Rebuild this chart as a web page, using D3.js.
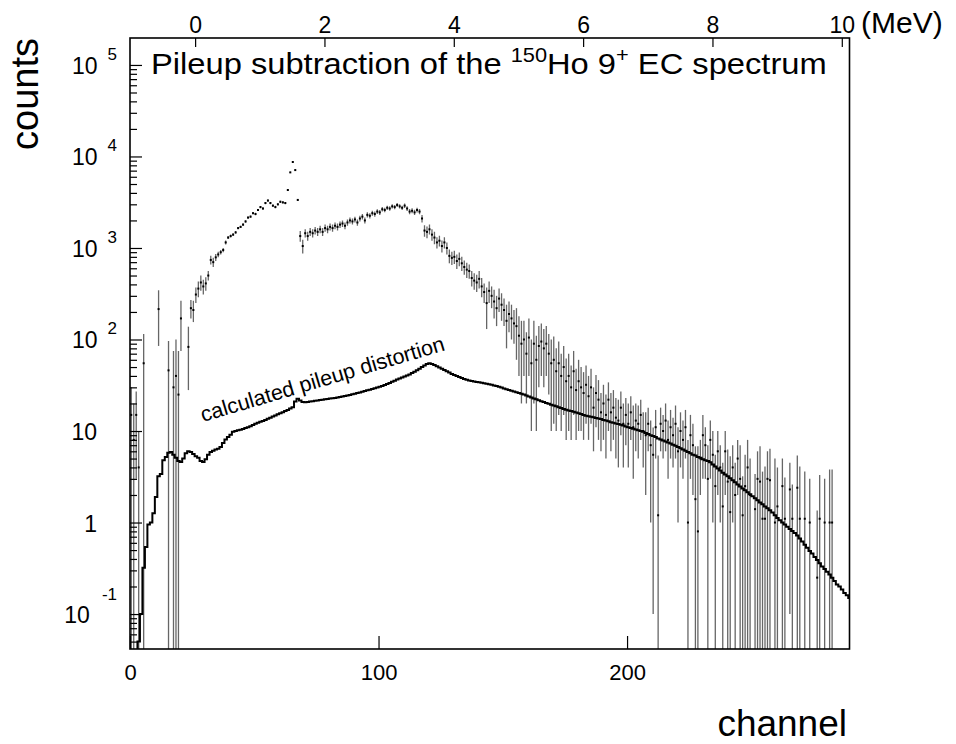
<!DOCTYPE html>
<html>
<head>
<meta charset="utf-8">
<script src="https://cdn.jsdelivr.net/npm/d3@7"></script>
<style>
    body { margin: 0; background: #fff; }
    text { font-family: "Liberation Sans", Arial, sans-serif; fill: #000; }
</style>
</head>
<body>
<script>
// measured counts per channel (index = channel), null = no entry
let counts = [
    15, 8, 15, 4, null, 55, null, null, null, null,
    null, 215, null, null, null, 46, null, 30, 40, 25,
    170, null, null, 83, 220, 210, 310, 360, 420, 380,
    410, 500, 740, 700, 790, 850, 900, 950, 1150, 1300,
    1350, 1400, 1480, 1650, 1700, 1800, 1950, 2150, 2200, 2400,
    2350, 2600, 2800, 2700, 3100, 3300, 3100, 2900, 2800, 3000,
    3200, 3150, 3100, 4300, 6700, 8700, 7100, 3350, 1350, 1050,
    1450, 1350, 1500, 1450, 1550, 1500, 1600, 1500, 1650, 1600,
    1700, 1650, 1750, 1700, 1800, 1850, 1750, 1900, 2000, 1950,
    2050, 1900, 2100, 2200, 2000, 2300, 2250, 2400, 2350, 2500,
    2450, 2650, 2600, 2750, 2700, 2850, 2800, 2950, 2850, 2750,
    2900, 2700, 2500, 2550, 2450, 2600, 2500, 2100, 1550, 1500,
    1600, 1400, 1300, 1150, 1200, 1050, 1150, 1000, 820, 780,
    800, 720, 760, 680, 620, 580, 560, 470, 440, 420,
    460, 380, 330, 250, 340, 300, 260, 220, 280, 240,
    210, 160, 190, 170, 150, 140, 110, 90, 100, 70,
    105, 55, 90, 60, 85, 95, 80, 90, 70, 55,
    60, 45, 55, 40, 50, 35, 40, 30, 45, 28,
    35, 30, 26, 32, 24, 30, 18, 26, 22, 16,
    20, 15, 22, 16, 18, 14, 13, 18, 12, 15,
    12, 16, 11, 13, 12, 15, 10, 9, 12, 7,
    5.5, 11, 1.2, 12, 10, 13, 8, 11, 9, 12,
    6, 10, 8, 11, 1.0, 9, 7, 1.8, 0.8, 5,
    9, 7, 3, 8, 5.5, 2.5, 6, 4, 1.5, 6,
    2.8, 1.3, 4, 2, 5, 3, 1.2, 2.5, 4, 2,
    null, 1.4, 3, 2.8, 1.1, 1.1, 3, 2.9, null, 1.0,
    1.5, null, 2.5, 1.1, null, 2.3, 1.1, null, 2.4, 1.1,
    null, 1.1, null, 1.0, null, null, 0.25, 1.1, null, 1.0,
    null, 1.0, 1.0, null, null, null, null, null, null, null
];

let countErrors = [
    15, 12, 12, 6, null, 60, null, null, null, null,
    null, 130, null, null, null, 50, null, 45, 60, 50,
    95, null, null, 55, 50, 55, 60, 70, 80, 70,
    70, 60, 80, 80, 70, 60, 50, 50, 60, 50,
    50, 50, 50, 50, 50, 60, 60, 60, 60, 70,
    70, 70, 80, 80, 90, 90, 90, 90, 90, 90,
    90, 90, 90, 100, 120, 150, 130, 90, 180, 180,
    150, 150, 150, 150, 150, 150, 150, 150, 150, 150,
    150, 150, 150, 150, 150, 150, 150, 150, 150, 150,
    150, 150, 150, 150, 150, 150, 150, 150, 150, 150,
    150, 150, 150, 150, 150, 150, 150, 150, 150, 150,
    160, 160, 160, 160, 160, 160, 170, 200, 220, 220,
    200, 200, 200, 160, 160, 160, 160, 150, 140, 130,
    130, 130, 130, 120, 110, 110, 100, 90, 90, 90,
    100, 90, 80, 120, 90, 80, 90, 80, 80, 80,
    70, 80, 70, 70, 60, 80, 70, 70, 60, 50,
    65, 45, 70, 50, 55, 55, 50, 50, 45, 45,
    48, 35, 40, 30, 35, 27, 30, 22, 30, 20,
    25, 20, 18, 20, 16, 18, 12, 15, 14, 10,
    12, 10, 12, 10, 10, 9, 9, 9, 8, 8,
    8, 8, 8, 7, 7, 7, 6, 7, 6, 6,
    5.4, 6, 4.2, 6, 5, 7, 5, 6, 5, 7,
    5, 6, 5, 6, 7, 6, 5, 5, 6, 3,
    6, 4, 4, 5, 4.5, 3, 4, 3, 3, 4,
    3.5, 4, 3, 2.5, 3, 4, 2, 3, 4, 3,
    null, 2, 3, 4, 2.5, 3, 3, 3.5, null, 4,
    2.5, null, 2.5, 2, null, 2.2, 1.5, null, 3, 3,
    null, 2.5, null, 2, null, null, 1.1, 2.2, null, 2.0,
    null, 2.8, 2.8, null, null, null, null, null, null, null
];

// calculated pileup distortion per channel
let pileup = [
    0.03, 0.03, 0.03, 0.05, 0.1, 0.32, 0.54, 0.95, 1.0, 1.26,
    1.9, 3.2, 3.4, 4.8, 5.2, 5.8, 5.9, 5.5, 5.1, 4.7,
    4.6, 5.0, 5.7, 6.0, 5.9, 5.6, 5.3, 5.1, 4.7, 4.6,
    4.9, 5.5, 5.9, 6.1, 6.3, 6.4, 6.7, 7.4, 8.1, 8.6,
    9.1, 9.8, 10.0, 10.2, 10.3, 10.5, 10.8, 11.0, 11.3, 11.6,
    12.0, 12.3, 12.6, 12.9, 13.2, 13.6, 14.0, 14.4, 14.8, 15.2,
    15.6, 16.0, 16.5, 17.0, 17.6, 18.2, 21.0, 22.5, 21.5, 20.8,
    20.6, 20.8, 21.0, 21.2, 21.4, 21.6, 21.8, 22.0, 22.2, 22.4,
    22.6, 22.8, 23.0, 23.3, 23.6, 23.9, 24.2, 24.5, 24.8, 25.2,
    25.6, 26.0, 26.4, 26.9, 27.4, 27.9, 28.3, 28.8, 29.3, 29.8,
    30.4, 31.0, 31.8, 32.6, 33.5, 34.5, 35.5, 36.5, 37.5, 38.5,
    39.5, 40.5, 41.5, 43.0, 44.5, 46.0, 48.0, 50.0, 52.0, 54.0,
    55.0, 54.0, 52.5, 51.0, 49.5, 48.0, 46.5, 45.0, 43.5, 42.0,
    41.0, 40.0, 39.0, 38.0, 37.0, 36.3, 35.7, 35.2, 34.8, 34.4,
    34.0, 33.6, 33.2, 32.8, 32.4, 32.0, 31.5, 31.0, 30.4, 29.8,
    29.2, 28.6, 28.1, 27.6, 27.1, 26.6, 26.1, 25.6, 25.0, 24.4,
    23.8, 23.2, 22.7, 22.2, 21.7, 21.2, 20.7, 20.2, 19.8, 19.4,
    19.0, 18.6, 18.2, 17.8, 17.4, 17.1, 16.8, 16.5, 16.2, 15.9,
    15.6, 15.3, 15.0, 14.7, 14.5, 14.3, 14.1, 13.9, 13.7, 13.5,
    13.2, 13.0, 12.8, 12.5, 12.3, 12.1, 11.9, 11.7, 11.5, 11.2,
    11.0, 10.8, 10.6, 10.4, 10.2, 10.0, 9.8, 9.5, 9.3, 9.0,
    8.8, 8.6, 8.3, 8.1, 7.9, 7.7, 7.5, 7.3, 7.1, 6.9,
    6.7, 6.5, 6.3, 6.1, 5.9, 5.7, 5.5, 5.4, 5.2, 5.1,
    4.9, 4.8, 4.7, 4.55, 4.3, 4.1, 3.9, 3.7, 3.5, 3.35,
    3.2, 3.05, 2.9, 2.75, 2.6, 2.48, 2.36, 2.25, 2.14, 2.04,
    1.94, 1.84, 1.75, 1.66, 1.58, 1.5, 1.43, 1.36, 1.29, 1.2,
    1.12, 1.06, 1.0, 0.95, 0.9, 0.85, 0.81, 0.77, 0.72, 0.67,
    0.62, 0.57, 0.53, 0.49, 0.46, 0.42, 0.39, 0.36, 0.33, 0.31,
    0.29, 0.27, 0.25, 0.23, 0.21, 0.2, 0.185, 0.17, 0.16, 0.15
];

let channelTicks = [0, 100, 200];
let mevTicks = [0, 2, 4, 6, 8, 10];
let decadeExponents = [-1, 0, 1, 2, 3, 4, 5];

// energy calibration of the top axis
let mevZeroChannel = 26.2;
let channelsPerMeV = 26.02;

let size = {width: 956, height: 744};
let frame = {left: 130, right: 849.5, top: 38, bottom: 649};

let svg = d3.select("body").append("svg")
    .attr("width", size.width)
    .attr("height", size.height);

let x = d3.scaleLinear()
    .domain([0, 289.5])
    .range([frame.left, frame.right]);

let mev = d3.scaleLinear()
    .domain([x.invert(frame.left), x.invert(frame.right)].map(c => (c - mevZeroChannel) / channelsPerMeV))
    .range([frame.left, frame.right]);

let y = d3.scaleLog()
    .domain([0.0415, 197000])
    .range([frame.bottom, frame.top]);

svg.append("clipPath").attr("id", "plot")
    .append("rect")
    .attr("x", frame.left).attr("y", frame.top)
    .attr("width", frame.right - frame.left)
    .attr("height", frame.bottom - frame.top);

let points = counts.map((v, i) => ({ch: i, v: v, e: countErrors[i]}))
    .filter(d => d.v != null);

let yMin = y.domain()[0];

// error bars
svg.append("g")
    .attr("clip-path", "url(#plot)")
    .attr("stroke", "#666")
    .attr("stroke-width", 1.3)
    .selectAll("line")
    .data(points)
    .join("line")
    .attr("x1", d => x(d.ch + 0.5))
    .attr("x2", d => x(d.ch + 0.5))
    .attr("y1", d => y(Math.max(d.v - d.e, yMin)))
    .attr("y2", d => y(d.v + d.e));

svg.append("g")
    .attr("clip-path", "url(#plot)")
    .selectAll("rect")
    .data(points)
    .join("rect")
    .attr("x", d => x(d.ch + 0.5) - 1)
    .attr("y", d => y(d.v) - 1)
    .attr("width", 2)
    .attr("height", 2)
    .attr("fill", "#000");

// pileup histogram as step line
let steps = pileup.map((v, i) => [i, v]);
steps.push([pileup.length, pileup[pileup.length - 1]]);

svg.append("path")
    .attr("clip-path", "url(#plot)")
    .datum(steps)
    .attr("fill", "none")
    .attr("stroke", "#000")
    .attr("stroke-width", 2)
    .attr("d", d3.line()
        .x(d => x(d[0]))
        .y(d => y(d[1]))
        .curve(d3.curveStepAfter));

// frame
svg.append("rect")
    .attr("x", frame.left).attr("y", frame.top)
    .attr("width", frame.right - frame.left)
    .attr("height", frame.bottom - frame.top)
    .attr("fill", "none")
    .attr("stroke", "#000")
    .attr("stroke-width", 1.6);

// bottom axis (channel)
svg.append("g")
    .attr("transform", `translate(0,${frame.bottom})`)
    .call(d3.axisBottom(x).tickValues(channelTicks).tickSize(-13).tickPadding(15))
    .call(g => g.select(".domain").remove())
    .call(g => g.selectAll("line").attr("stroke", "#000").attr("stroke-width", 1.2))
    .call(g => g.selectAll("text").attr("font-size", 22).attr("font-family", null));

// top axis (MeV)
svg.append("g")
    .attr("transform", `translate(0,${frame.top})`)
    .call(d3.axisTop(mev).tickValues(mevTicks).tickSize(-9).tickPadding(5))
    .call(g => g.select(".domain").remove())
    .call(g => g.selectAll("line").attr("stroke", "#000").attr("stroke-width", 1.2))
    .call(g => g.selectAll("text").attr("font-size", 23).attr("font-family", null));

// left axis: decades and minor ticks
let minorTicks = [];
d3.range(-2, 6).forEach(p => d3.range(2, 10).forEach(m => {
    let t = m * Math.pow(10, p);
    if (t > yMin && t < y.domain()[1]) minorTicks.push(t);
}));

svg.append("g")
    .attr("transform", `translate(${frame.left},0)`)
    .call(d3.axisRight(y).tickValues(minorTicks).tickSize(7).tickFormat(""))
    .call(g => g.select(".domain").remove())
    .call(g => g.selectAll("line").attr("stroke", "#000").attr("stroke-width", 1.2));

svg.append("g")
    .attr("transform", `translate(${frame.left},0)`)
    .call(d3.axisRight(y).tickValues(decadeExponents.map(p => Math.pow(10, p))).tickSize(12).tickFormat(""))
    .call(g => g.select(".domain").remove())
    .call(g => g.selectAll("line").attr("stroke", "#000").attr("stroke-width", 1.2));

let yLabels = svg.append("g").attr("font-size", 23);
decadeExponents.forEach(p => {
    let base = y(Math.pow(10, p)) + 9;
    if (p === 0 || p === 1) {
        yLabels.append("text")
            .attr("x", 97).attr("y", base)
            .attr("text-anchor", "end")
            .text(p === 0 ? "1" : "10");
        return;
    }
    let exp = yLabels.append("text")
        .attr("x", 117).attr("y", base - (p < 0 ? 23 : 14))
        .attr("text-anchor", "end")
        .attr("font-size", 17)
        .text(p);
    let ew = exp.node().getComputedTextLength();
    yLabels.append("text")
        .attr("x", 117 - ew - (p < 0 ? 12 : 10)).attr("y", base)
        .attr("text-anchor", "end")
        .text("10");
});

// axis titles
svg.append("text")
    .attr("transform", "translate(38,38) rotate(-90)")
    .attr("text-anchor", "end")
    .attr("font-size", 38)
    .text("counts");

svg.append("text")
    .attr("x", 847).attr("y", 736)
    .attr("text-anchor", "end")
    .attr("font-size", 37)
    .text("channel");

svg.append("text")
    .attr("x", 861).attr("y", 33)
    .attr("font-size", 30)
    .text("(MeV)");

// title with superscripts
let title = svg.append("text").attr("font-size", 30);
title.append("tspan").text("Pileup subtraction of the ");
title.append("tspan").attr("font-size", 20).attr("dy", -12).text("150");
title.append("tspan").attr("dy", 12).text("Ho 9");
title.append("tspan").attr("font-size", 20).attr("dy", -12).text("+");
title.append("tspan").attr("dy", 12).text(" EC spectrum");
let tw = title.node().getBBox().width;
title.attr("transform", `translate(151,74) scale(${676 / tw},1)`);

svg.append("text")
    .attr("transform", "translate(203,422) rotate(-16.5)")
    .attr("font-size", 21.5)
    .text("calculated pileup distortion");
</script>
</body>
</html>
